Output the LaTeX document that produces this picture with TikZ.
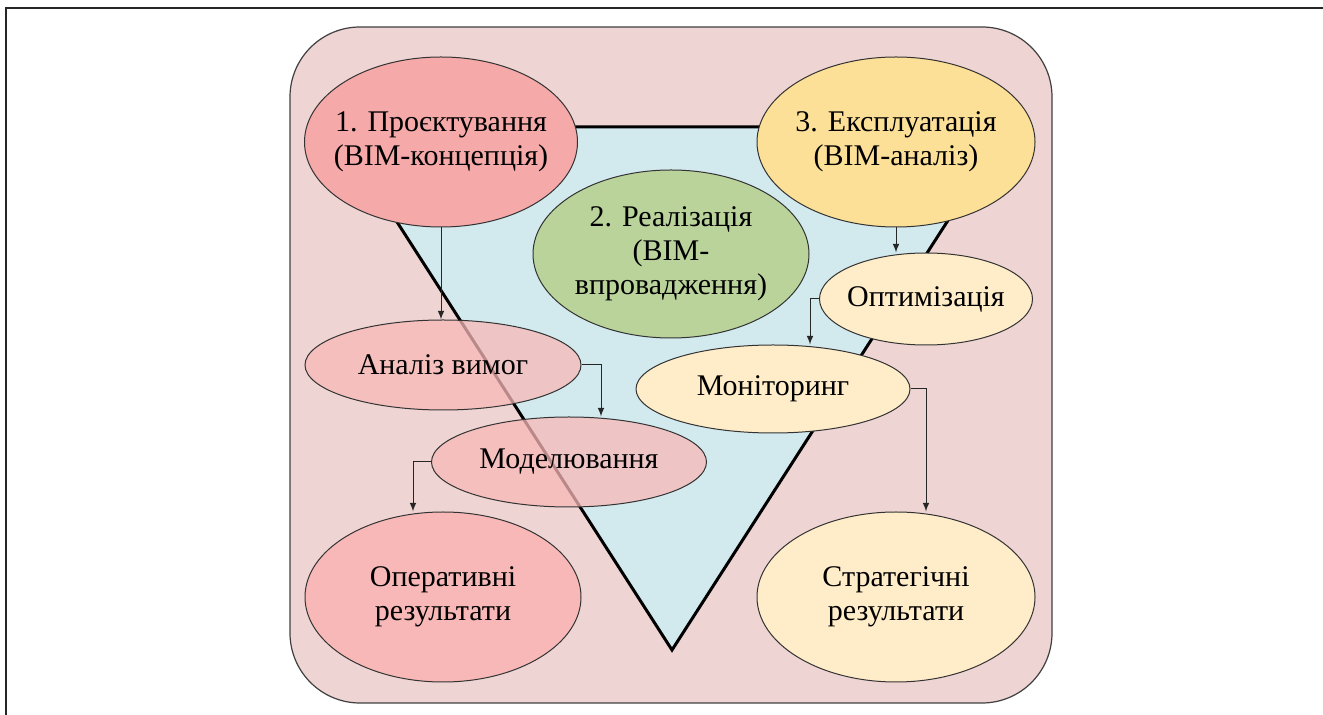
\documentclass[tikz,border=0pt]{standalone}
\usepackage{fontspec}
\setmainfont{Liberation Serif}
\usetikzlibrary{shapes.geometric}

\definecolor{hintergrund}{HTML}{EED4D2}
\definecolor{dreieck}{HTML}{D2E9EE}
\definecolor{rosa}{HTML}{F5A9A9}
\definecolor{rosahell}{HTML}{F8B8B8}
\definecolor{gruen}{HTML}{B9D39B}
\definecolor{gelb}{HTML}{FDE097}
\definecolor{gelbhell}{HTML}{FFEDC9}

\begin{document}
\begin{tikzpicture}
    [
    x=0.5pt, y=-0.5pt, font=\fontsize{15}{17}\selectfont, >=latex,
    %Voreinstellung für Ellipsen und Pfeile
    phase/.style={ellipse, draw=black!80, line width=0.5pt, inner sep=-12pt,
      align=center, minimum width=138pt, minimum height=85pt},
    flach/.style={phase, minimum height=45pt},
    pfeil/.style={->, line width=0.5pt, draw=black!85}
    ]
    
    \useasboundingbox (0,0) rectangle (1323,715);
    
    %Rahmen
    \draw[line width=1.3pt, black!85] (6,715) -- (6,8) -- (1323,8);
    
    %Hintergrund
    \draw[fill=hintergrund, draw=black!75, line width=0.6pt, rounded corners=35pt]
    (290,27) rectangle (1052,703);
    
    %Dreieck
    \draw[fill=dreieck, line width=1.5pt, line join=miter]
    (336,127) -- (1008,127) -- (672,650) -- cycle;
    
    %Phasen
    \node[phase, fill=rosa, minimum width=136.5pt] (proj) at (441,142)
    {1. Проєктування\\(BIM-концепція)};
    \node[phase, fill=gruen, minimum height=84pt] (real) at (671,254)
    {2. Реалізація\\(BIM-\\впровадження)};
    \node[phase, fill=gelb, minimum width=139pt] (expl) at (896,142)
    {3. Експлуатація\\(BIM-аналіз)};
    
    %Linke Seite
    \node[flach, fill=rosahell, fill opacity=0.75, text opacity=1] (anal) at (443,365)
    {Аналіз вимог};
    \node[flach, fill=rosahell, fill opacity=0.75, text opacity=1,
      minimum width=137.5pt] (model) at (569,462) {Моделювання};
    \node[phase, fill=rosahell] (oper) at (443,597) {Оперативні\\результати};
    
    %Rechte Seite
    \node[flach, fill=gelbhell, minimum width=106.5pt, minimum height=46pt] (opt)
    at (926,299) {Оптимізація};
    \node[flach, fill=gelbhell, minimum width=137pt, minimum height=44pt] (mon)
    at (773,389) {Моніторинг};
    \node[phase, fill=gelbhell, minimum width=139pt] (strat) at (896,597)
    {Стратегічні\\результати};
    
    %Pfeile
    \draw[pfeil] (proj.south) -- (proj.south |- anal.north);
    \draw[pfeil] (anal.east) -| ([xshift=16pt]model.north);
    \draw[pfeil] (model.west) -| ([xshift=-15pt]oper.north);
    \draw[pfeil] (expl.south) -- (expl.south |- opt.north);
    \draw[pfeil] (opt.west) -| ([xshift=18.5pt]mon.north);
    \draw[pfeil] (mon.east) -| ([xshift=15pt]strat.north);
\end{tikzpicture}
\end{document}
